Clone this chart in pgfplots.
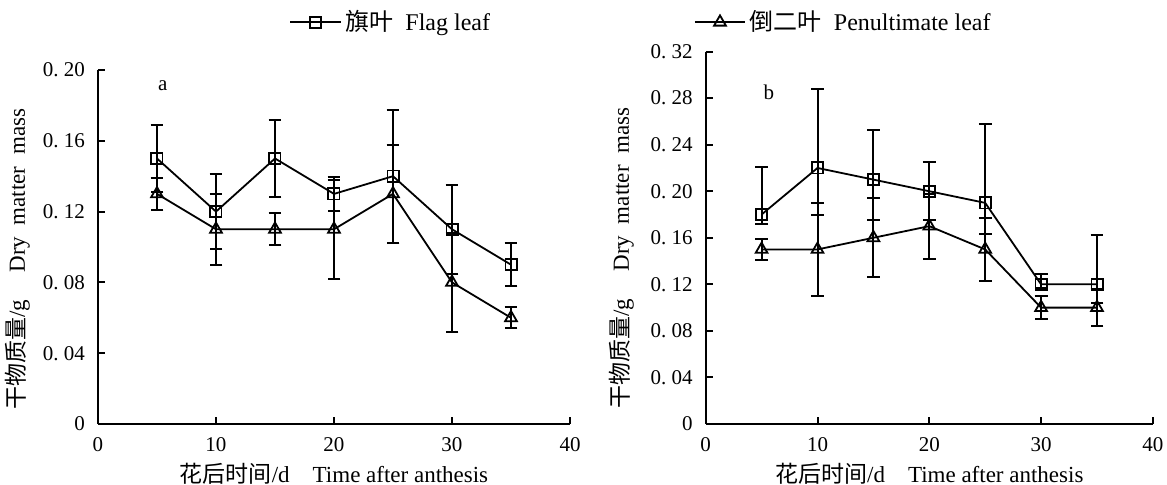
\documentclass[border=0pt]{standalone}
\usepackage{fontspec}
\setmainfont{Liberation Serif}
\newfontfamily\cjk{Noto Sans CJK SC}
\usepackage{pgfplots}
\pgfplotsset{compat=1.18}

\pgfplotsset{
  panel/.style={
    scale only axis,
    axis x line*=bottom, axis y line*=left,
    axis line style={line width=1pt},
    tick align=inside, major tick length=3.5pt,
    every tick/.style={black, line width=1pt},
    xmin=0, xmax=40, ymin=0,
    xtick={0,10,20,30,40}, xticklabels={0,10,20,30,40},
    tick label style={font=\fontsize{10.5}{12}\selectfont},
    xticklabel style={yshift=-3pt},
    yticklabel style={xshift=-3pt},
    label style={font=\fontsize{11.5}{12}\selectfont},
    xlabel={{\cjk 花后时间}/d\hspace{1em}Time after anthesis},
    ylabel={{\cjk 干物质量}/g\hspace{1.2em}Dry\ \ matter\ \ mass},
    clip=false,
  },
  sq/.style={black, line width=0.9pt, mark=square, mark size=2.8pt,
    mark options={fill=white, solid, line width=0.9pt},
    error bars/error bar style={line width=1pt, black},
    error bars/error mark options={rotate=90, mark size=3.2pt, line width=1pt, black}},
  tri/.style={black, line width=0.9pt, mark=triangle, mark size=3.4pt,
    mark options={fill=white, solid, line width=0.9pt},
    error bars/error bar style={line width=1pt, black},
    error bars/error mark options={rotate=90, mark size=3.2pt, line width=1pt, black}},
}

\begin{document}
\begin{tikzpicture}
\useasboundingbox (-49pt,-30.5pt) rectangle (534.5pt,212pt);

% panel a
\begin{axis}[panel,
  at={(0,0)}, anchor=south west,
  width=236pt, height=177pt,
  ymax=0.20, ytick={0,0.04,...,0.21},
  yticklabels={0,0.~04,0.~08,0.~12,0.~16,0.~20},
  xlabel style={at={(axis description cs:0.5,-0.14)}, anchor=center},
  ylabel style={at={(axis description cs:-0.17,0.465)}, anchor=center},
  legend style={draw=none, fill=none, at={(0.405,1.135)}, anchor=west,
    legend columns=2, inner sep=0pt,
    font=\fontsize{12}{13}\selectfont,
    /tikz/every even column/.append style={column sep=100pt}},
  legend image code/.code={\draw[mark repeat=2,mark phase=2,#1]
    plot coordinates {(0cm,0cm) (0.44cm,0cm) (0.88cm,0cm)};},
]
\addplot[sq, error bars/.cd, y dir=both, y explicit] coordinates {
  (5,0.15)  +- (0,0.019)
  (10,0.12) +- (0,0.021)
  (15,0.15) +- (0,0.022)
  (20,0.13) +- (0,0.0095)
  (25,0.14) +- (0,0.0375)
  (30,0.11) +- (0,0.025)
  (35,0.09) +- (0,0.012)
};
\addlegendentry{{\cjk 旗叶}\ \ Flag leaf}
\addplot[tri, error bars/.cd, y dir=both, y explicit] coordinates {
  (5,0.13)  +- (0,0.009)
  (10,0.11) +- (0,0.02)
  (15,0.11) +- (0,0.009)
  (20,0.11) +- (0,0.028)
  (25,0.13) +- (0,0.0275)
  (30,0.08) +- (0,0.028)
  (35,0.06) +- (0,0.006)
};
\addlegendentry{{\cjk 倒二叶}\ \ Penultimate leaf}
\node[font=\fontsize{10.5}{12}\selectfont] at (axis cs:5.5,0.191) {a};
\end{axis}

% panel b
\begin{axis}[panel,
  at={(303.85pt,0)}, anchor=south west,
  width=223.6pt, height=186.2pt,
  ymax=0.32, ytick={0,0.04,...,0.33},
  yticklabels={0,0.~04,0.~08,0.~12,0.~16,0.~20,0.~24,0.~28,0.~32},
  xlabel style={at={(axis description cs:0.5,-0.133)}, anchor=center},
  ylabel style={at={(axis description cs:-0.188,0.445)}, anchor=center},
]
\addplot[sq, error bars/.cd, y dir=both, y explicit] coordinates {
  (5,0.18)  += (0,0.041) -= (0,0.008)
  (10,0.22) += (0,0.068) -= (0,0.040)
  (15,0.21) += (0,0.043) -= (0,0.035)
  (20,0.20) += (0,0.025) -= (0,0.025)
  (25,0.19) += (0,0.068) -= (0,0.027)
  (30,0.12) += (0,0.009) -= (0,0.003)
  (35,0.12) += (0,0.042) -= (0,0.016)
};
\addplot[tri, error bars/.cd, y dir=both, y explicit] coordinates {
  (5,0.15)  +- (0,0.0087)
  (10,0.15) +- (0,0.04)
  (15,0.16) +- (0,0.034)
  (20,0.17) +- (0,0.028)
  (25,0.15) +- (0,0.027)
  (30,0.10) +- (0,0.01)
  (35,0.10) +- (0,0.016)
};
\node[font=\fontsize{10.5}{12}\selectfont] at (axis cs:5.66,0.285) {b};
\end{axis}
\end{tikzpicture}
\end{document}
